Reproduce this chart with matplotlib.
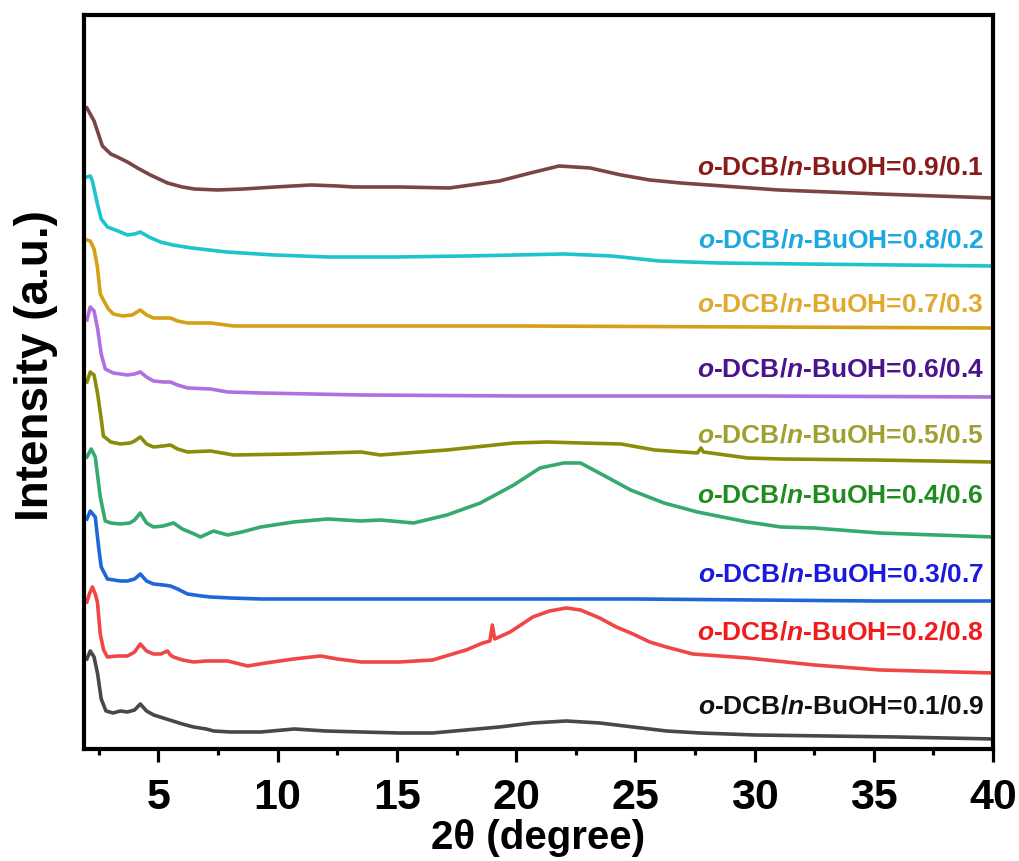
import matplotlib
matplotlib.use("Agg")
import matplotlib.pyplot as plt
from matplotlib.ticker import MultipleLocator

plt.rcParams['font.family'] = ['Liberation Sans', 'DejaVu Sans']
plt.rcParams['font.weight'] = 'bold'
plt.rcParams['mathtext.fontset'] = 'custom'
plt.rcParams['mathtext.it'] = 'Liberation Sans:italic:bold'
plt.rcParams['mathtext.rm'] = 'Liberation Sans:bold'
plt.rcParams['mathtext.bf'] = 'Liberation Sans:bold'

# ---- data (2theta, stacked intensity in arbitrary units) ----
ratios = ["0.1/0.9", "0.2/0.8", "0.3/0.7", "0.4/0.6", "0.5/0.5",
          "0.6/0.4", "0.7/0.3", "0.8/0.2", "0.9/0.1"]

x_01 = [2.0, 2.14, 2.3, 2.45, 2.6, 2.8, 3.1, 3.4, 3.7, 4.0, 4.24, 4.5, 4.8, 5.2, 5.6, 6.0,
        6.47, 7.0, 7.31, 8.0, 9.3, 10.7, 12.0, 13.5, 15.1, 16.5, 17.9, 19.3, 20.7, 22.1,
        23.5, 24.9, 26.3, 27.7, 30.0, 33.0, 36.0, 40.0]
y_01 = [90, 98, 92, 75, 50, 38, 36, 38, 37, 39, 45, 38, 34, 31, 28, 25,
        22, 20, 18, 17, 17, 20, 18, 17, 16, 16, 19, 22, 26, 28,
        26, 22, 18, 16, 14, 13, 12, 10]

x_02 = [2.0, 2.1, 2.23, 2.35, 2.44, 2.56, 2.7, 2.86, 3.3, 3.7, 4.0, 4.24, 4.5, 4.79, 5.1,
        5.38, 5.5, 5.63, 6.0, 6.47, 7.0, 7.9, 8.74, 9.5, 10.67, 11.8, 12.5, 13.5, 15.1,
        16.5, 17.9, 18.6, 18.9, 19.0, 19.1, 19.75, 20.7, 21.4, 22.1, 22.7, 23.5, 24.2,
        24.9, 25.6, 26.3, 27.4, 29.7, 32.5, 35.25, 40.0]
y_02 = [147, 155, 162, 155, 147, 115, 99, 92, 93, 93, 97, 105, 98, 95, 95,
        98, 94, 92, 89, 87, 88, 88, 83, 86, 90, 93, 90, 87, 87,
        89, 99, 106, 108, 124, 110, 117, 132, 138, 141, 139, 131, 122,
        115, 107, 102, 95, 91, 84, 79, 76]

x_03 = [2.0, 2.14, 2.35, 2.5, 2.6, 2.86, 3.4, 3.7, 4.0, 4.24, 4.5, 4.79, 5.2, 5.5, 5.8,
        6.22, 6.8, 7.18, 8.0, 9.3, 15.0, 20.0, 25.0, 30.0, 35.0, 40.0]
y_03 = [230, 238, 232, 200, 182, 170, 168, 168, 170, 175, 168, 165, 164, 163, 160,
        155, 153, 152, 151, 150, 150, 150, 150, 149, 148, 148]

x_04 = [2.0, 2.18, 2.35, 2.56, 2.77, 3.0, 3.4, 3.8, 4.0, 4.24, 4.5, 4.79, 5.2, 5.63, 6.0,
        6.5, 6.76, 7.31, 7.9, 8.5, 9.29, 10.67, 12.1, 13.49, 14.3, 15.7, 17.1, 18.5,
        19.9, 21.0, 22.0, 22.7, 23.8, 24.8, 26.2, 27.6, 29.7, 31.1, 32.5, 35.2, 40.0]
y_04 = [292, 300, 292, 252, 228, 226, 225, 226, 229, 236, 226, 222, 223, 226, 220,
        215, 212, 218, 214, 217, 222, 227, 230, 228, 229, 226, 234, 246,
        264, 281, 286, 286, 272, 259, 246, 237, 227, 222, 221, 216, 212]

x_05 = [2.0, 2.14, 2.3, 2.45, 2.6, 2.69, 3.0, 3.4, 3.82, 4.0, 4.24, 4.5, 4.79, 5.2, 5.5,
        5.8, 6.22, 7.18, 8.15, 10.67, 13.49, 14.3, 17.1, 19.9, 21.3, 22.7, 24.4, 25.8,
        27.6, 27.75, 27.85, 29.7, 31.1, 35.0, 40.0]
y_05 = [367, 377, 374, 355, 330, 313, 307, 305, 306, 308, 312, 305, 302, 303, 304,
        300, 297, 298, 294, 295, 297, 294, 299, 306, 307, 306, 305, 299,
        296, 301, 297, 291, 290, 289, 287]

x_06 = [2.0, 2.14, 2.3, 2.45, 2.6, 2.77, 3.1, 3.4, 3.7, 4.0, 4.24, 4.5, 4.79, 5.2, 5.5,
        5.8, 6.22, 7.18, 7.9, 9.3, 13.5, 20.0, 30.0, 40.0]
y_06 = [429, 442, 438, 420, 395, 380, 376, 375, 374, 375, 377, 372, 368, 367, 367,
        364, 361, 360, 357, 356, 354, 353, 353, 352]

x_07 = [2.0, 2.14, 2.3, 2.44, 2.56, 2.69, 2.9, 3.11, 3.5, 3.9, 4.24, 4.5, 4.79, 5.5, 5.8,
        6.22, 7.18, 8.15, 10.0, 20.0, 30.0, 40.0]
y_07 = [509, 508, 500, 482, 455, 449, 440, 435, 433, 434, 439, 434, 431, 431, 428,
        426, 426, 423, 423, 423, 422, 421]

x_08 = [2.0, 2.14, 2.23, 2.44, 2.6, 2.86, 3.3, 3.7, 4.0, 4.24, 4.6, 5.08, 5.6, 6.4, 7.85,
        9.83, 12.1, 15.0, 18.0, 20.0, 22.0, 24.0, 26.0, 28.5, 32.0, 36.0, 40.0]
y_08 = [572, 573, 568, 545, 530, 522, 518, 514, 515, 517, 512, 507, 504, 501, 497,
        494, 492, 492, 493, 494, 495, 493, 488, 486, 485, 484, 483]

x_09 = [2.0, 2.3, 2.65, 3.0, 3.28, 3.7, 4.12, 4.66, 5.38, 6.0, 6.5, 7.48, 8.57, 9.9, 11.4,
        12.5, 13.2, 15.1, 17.2, 19.3, 20.6, 21.8, 23.1, 24.4, 25.6, 26.9, 31.0, 35.2, 40.0]
y_09 = [641, 628, 603, 595, 592, 587, 581, 574, 566, 562, 560, 559, 560, 562, 564,
        563, 562, 562, 561, 568, 576, 583, 581, 574, 569, 566, 559, 555, 551]

label_y = [42, 116, 174, 253, 313, 379, 444, 508, 581]

line_colors = ['#484848', '#f04646', '#1f66d8', '#36aa6e', '#8c8c0a',
               '#b070e0', '#d4a014', '#1ec4cc', '#7a4545']
label_colors = ['#111111', '#f01c1c', '#1a1adc', '#1f8c1f', '#a0a030',
                '#4a148c', '#e0aa30', '#1ea8e0', '#8b1a1a']

xs = [x_01, x_02, x_03, x_04, x_05, x_06, x_07, x_08, x_09]
ys = [y_01, y_02, y_03, y_04, y_05, y_06, y_07, y_08, y_09]

# ---- figure ----
fig = plt.figure(figsize=(10.2, 8.61), dpi=100)
ax = fig.add_axes([0.0824, 0.1301, 0.8912, 0.8525])

for xv, yv, lc in zip(xs, ys, line_colors):
    ax.plot(xv, yv, color=lc, lw=2.6, solid_joinstyle='round')

for r, ly, tc in zip(ratios, label_y, label_colors):
    ax.text(39.6, ly, r'$\mathit{o}$-DCB/$\mathit{n}$-BuOH=' + r,
            color=tc, fontsize=19, fontweight='bold', ha='right', va='center')

ax.set_xlim(1.88, 40)
ax.set_ylim(0, 734)

ax.set_xticks([5, 10, 15, 20, 25, 30, 35, 40])
ax.xaxis.set_minor_locator(MultipleLocator(2.5))
ax.tick_params(axis='x', which='major', direction='out', length=9, width=2.3,
               labelsize=31, pad=12)
ax.tick_params(axis='x', which='minor', direction='out', length=4.5, width=2.3)
ax.tick_params(axis='y', left=False, labelleft=False)
for lab in ax.get_xticklabels():
    lab.set_fontweight('bold')

for sp in ax.spines.values():
    sp.set_linewidth(3)

ax.set_xlabel('2θ (degree)', fontsize=29, fontweight='bold')
ax.xaxis.set_label_coords(0.5, -0.0955)
ax.xaxis.label.set_va('top')
ax.set_ylabel('Intensity (a.u.)', fontsize=33, fontweight='bold')
ax.yaxis.set_label_coords(-0.029, 0.522)

fig.savefig('out.png', dpi=100)
